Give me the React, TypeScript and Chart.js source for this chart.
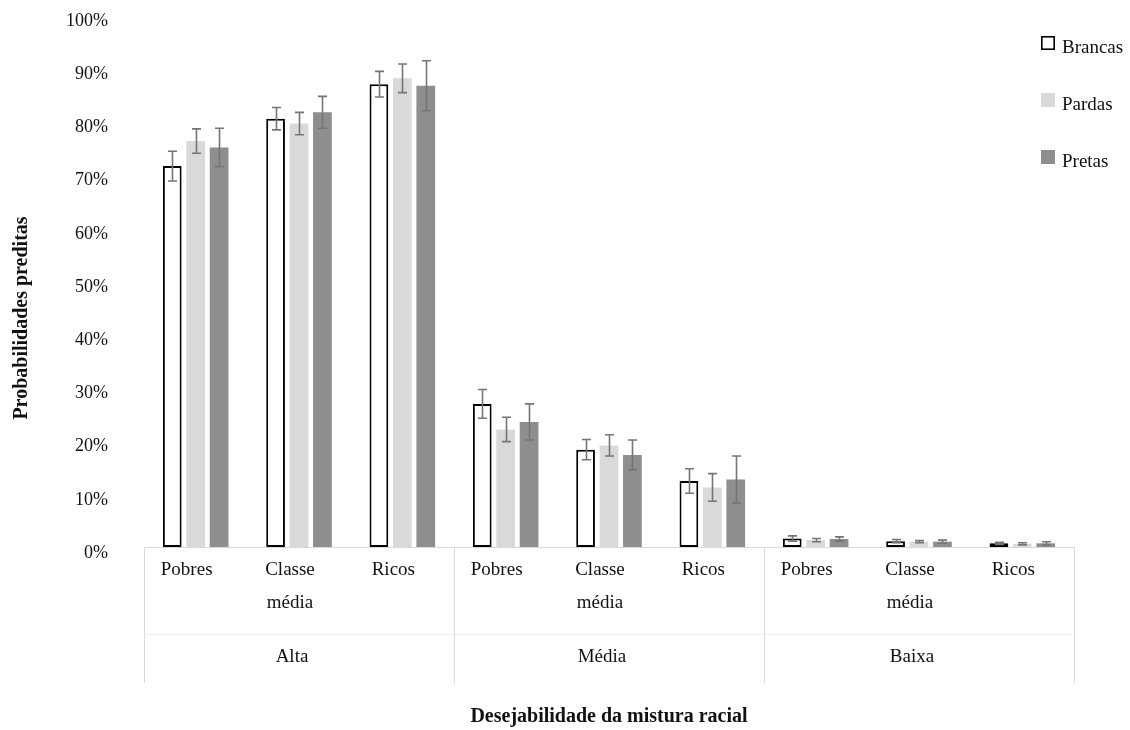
import { useEffect, useRef } from 'react';
import { Chart, registerables } from 'chart.js';

Chart.register(...registerables);

// Class categories (inner level) and desirability groups (outer level)
const classLabels: (string | string[])[] = [
  'Pobres', ['Classe', 'média'], 'Ricos',
  'Pobres', ['Classe', 'média'], 'Ricos',
  'Pobres', ['Classe', 'média'], 'Ricos',
];
const groupLabels = ['Alta', 'Média', 'Baixa'];

// Predicted probabilities (%) and half-widths of the confidence intervals
const brancas = [71.6, 80.5, 87.0, 26.9, 18.3, 12.4, 1.6, 1.1, 0.7];
const brancasErr = [2.8, 2.1, 2.4, 2.7, 1.9, 2.3, 0.5, 0.3, 0.2];
const pardas = [76.3, 79.6, 88.1, 22.1, 19.1, 11.2, 1.3, 1.0, 0.6];
const pardasErr = [2.3, 2.1, 2.7, 2.3, 2.0, 2.6, 0.3, 0.2, 0.2];
const pretas = [75.1, 81.7, 86.7, 23.5, 17.3, 12.7, 1.5, 1.0, 0.7];
const pretasErr = [3.6, 3.0, 4.7, 3.4, 2.8, 4.4, 0.4, 0.3, 0.3];

const yTicks = [0, 10, 20, 30, 40, 50, 60, 70, 80, 90, 100];

const FONT = '"Liberation Serif", "Times New Roman", serif';
const TEXT = '#111111';
const LINE = '#d9d9d9';

const errors = [brancasErr, pardasErr, pretasErr];

// Draws the confidence-interval whiskers on top of every bar
const errorBarPlugin = {
  id: 'errorBars',
  afterDatasetsDraw(chart: any) {
    const { ctx } = chart;
    const y = chart.scales.y;
    ctx.save();
    ctx.strokeStyle = '#757575';
    ctx.lineWidth = 1.6;
    chart.data.datasets.forEach((ds: any, di: number) => {
      const meta = chart.getDatasetMeta(di);
      meta.data.forEach((bar: any, i: number) => {
        const v = ds.data[i];
        const e = errors[di][i];
        const top = y.getPixelForValue(v + e);
        const bot = y.getPixelForValue(Math.max(0, v - e));
        const x = Math.round(bar.x) + 0.5;
        ctx.beginPath();
        ctx.moveTo(x, top);
        ctx.lineTo(x, bot);
        ctx.moveTo(x - 4.5, top);
        ctx.lineTo(x + 4.5, top);
        ctx.moveTo(x - 4.5, bot);
        ctx.lineTo(x + 4.5, bot);
        ctx.stroke();
      });
    });
    ctx.restore();
  },
};

// Outer category boxes, group names, axis title and legend
const decorPlugin = {
  id: 'decor',
  afterDraw(chart: any) {
    const { ctx, chartArea } = chart;
    const x = chart.scales.x;
    const boxBottom = 683;
    const sepY = 634;
    ctx.save();

    // box lines under the axis
    ctx.strokeStyle = LINE;
    ctx.lineWidth = 1;
    for (let g = 0; g <= groupLabels.length; g++) {
      const px = Math.round(x.getPixelForValue(g * 3 - 0.5)) + 0.5;
      ctx.beginPath();
      ctx.moveTo(px, chartArea.bottom);
      ctx.lineTo(px, boxBottom);
      ctx.stroke();
    }
    ctx.strokeStyle = '#efefef';
    ctx.beginPath();
    ctx.moveTo(chartArea.left, sepY + 0.5);
    ctx.lineTo(chartArea.right, sepY + 0.5);
    ctx.stroke();

    // group names
    ctx.fillStyle = TEXT;
    ctx.font = `19px ${FONT}`;
    ctx.textAlign = 'center';
    ctx.textBaseline = 'middle';
    groupLabels.forEach((name, g) => {
      const cx = (x.getPixelForValue(g * 3 - 0.5) + x.getPixelForValue(g * 3 + 2.5)) / 2;
      ctx.fillText(name, cx - 7, 657);
    });

    // vertical axis title
    ctx.font = `bold 20px ${FONT}`;
    ctx.translate(22, 318);
    ctx.rotate(-Math.PI / 2);
    ctx.fillText('Probabilidades preditas', 0, 0);
    ctx.setTransform(1, 0, 0, 1, 0, 0);

    // legend
    ctx.font = `19px ${FONT}`;
    ctx.textAlign = 'left';
    chart.data.datasets.forEach((ds: any, i: number) => {
      const by = 36 + i * 57;
      ctx.fillStyle = ds.backgroundColor;
      ctx.fillRect(1041, by, 14, 14);
      if (ds.borderWidth) {
        ctx.strokeStyle = ds.borderColor;
        ctx.lineWidth = 1.6;
        ctx.strokeRect(1041.8, by + 0.8, 12.4, 12.4);
      }
      ctx.fillStyle = TEXT;
      ctx.fillText(ds.label, 1062, by + 12);
    });
    ctx.restore();
  },
};

export default function App() {
  const ref = useRef<HTMLCanvasElement>(null);

  useEffect(() => {
    const chart = new Chart(ref.current as HTMLCanvasElement, {
      type: 'bar',
      data: {
        labels: classLabels,
        datasets: [
          {
            label: 'Brancas',
            data: brancas,
            backgroundColor: '#ffffff',
            borderColor: '#000000',
            borderWidth: 2,
            borderSkipped: false,
          },
          { label: 'Pardas', data: pardas, backgroundColor: '#d9d9d9', borderWidth: 0 },
          { label: 'Pretas', data: pretas, backgroundColor: '#8e8e8e', borderWidth: 0 },
        ],
      },
      options: {
        animation: false,
        responsive: false,
        devicePixelRatio: 1,
        events: [],
        layout: { padding: { left: 0, top: 15, right: 56, bottom: 0 } },
        datasets: { bar: { categoryPercentage: 0.68, barPercentage: 0.8 } },
        plugins: { legend: { display: false }, tooltip: { enabled: false } },
        scales: {
          x: {
            grid: { display: false, drawTicks: false },
            border: { display: true, color: LINE, width: 1 },
            ticks: {
              color: TEXT,
              font: { family: FONT, size: 19, lineHeight: 1.74 },
              padding: 6,
              labelOffset: -9,
              maxRotation: 0,
              autoSkip: false,
            },
            title: {
              display: true,
              text: 'Desejabilidade da mistura racial',
              color: TEXT,
              font: { family: FONT, size: 20, weight: 'bold' },
              padding: { top: 0, bottom: 1 },
            },
            afterFit: (scale: any) => {
              scale.height = 183;
            },
          },
          y: {
            min: 0,
            max: 100,
            afterBuildTicks: (scale: any) => {
              scale.ticks = yTicks.map((v) => ({ value: v }));
            },
            grid: { display: false, drawTicks: false },
            border: { display: false },
            ticks: {
              color: TEXT,
              font: { family: FONT, size: 18 },
              padding: 36,
              labelOffset: 6,
              callback: (v: any) => `${v}%`,
            },
            afterFit: (scale: any) => {
              scale.width = 144;
              scale.paddingTop = 10;
              scale.paddingBottom = 10;
            },
          },
        },
      },
      plugins: [errorBarPlugin, decorPlugin],
    } as any);
    return () => chart.destroy();
  }, []);

  return (
    <div style={{ position: 'fixed', left: 0, top: 0, width: 1130, height: 730, background: '#ffffff' }}>
      <canvas ref={ref} width={1130} height={730} style={{ display: 'block' }} />
    </div>
  );
}
